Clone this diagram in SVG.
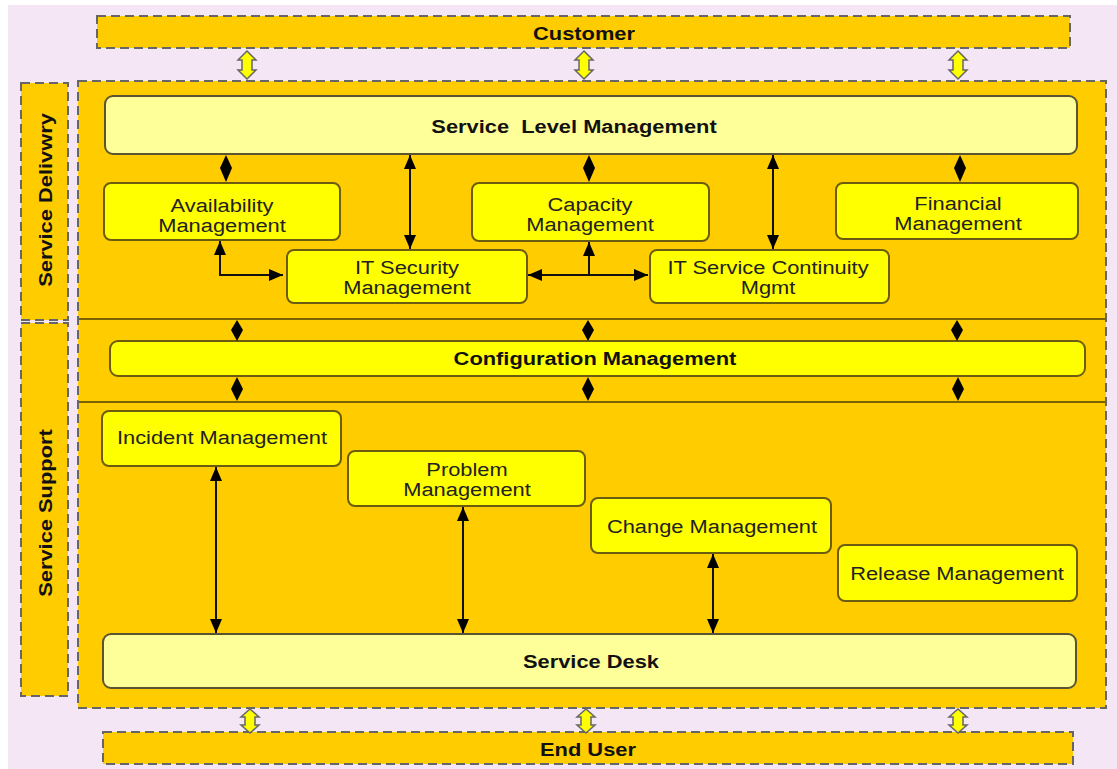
<svg xmlns="http://www.w3.org/2000/svg" width="1117" height="769" viewBox="0 0 1117 769">
<style>
.bg{fill:#f5e6f5}
.dash{fill:#ffcc00;stroke:#666;stroke-width:2;stroke-dasharray:9 5}
.box{fill:#ffff00;stroke:#6b5c10;stroke-width:2}
.lbox{fill:#ffff99;stroke:#5a5530;stroke-width:2}
.sep{stroke:#7a6200;stroke-width:2}
.t{font-family:"Liberation Sans",Arial,sans-serif;font-size:19px;fill:#222;text-anchor:middle}
.b{font-weight:bold;fill:#111}
.ln{fill:none;stroke:#111;stroke-width:2}
.dia{fill:#000}
.ha{fill:#ffff00;stroke:#666;stroke-width:1.5}
</style>
<defs>
<marker id="ah" viewBox="0 0 14 12" markerWidth="14" markerHeight="12" refX="14" refY="6" orient="auto-start-reverse" markerUnits="userSpaceOnUse">
<path d="M0,0 L14,6 L0,12 z" fill="#000"/>
</marker>
</defs>
<rect x="0" y="0" width="1117" height="769" fill="#ffffff"/>
<rect class="bg" x="8" y="5" width="1109" height="764"/>

<g id="customer">
<rect class="dash" x="97" y="16" width="973" height="32"/>
<text class="t b" transform="translate(584,40) scale(1.15,1)">Customer</text>
</g>
<g id="main">
<rect class="dash" x="78" y="81" width="1028" height="627"/>
<line class="sep" x1="79" y1="319" x2="1105" y2="319"/>
<line class="sep" x1="79" y1="402" x2="1105" y2="402"/>
</g>
<g id="service-delivery">
<rect class="dash" x="21" y="83" width="47" height="237"/>
<text class="t b" transform="translate(52,200) rotate(-90) scale(1.15,1)">Service Delivwry</text>
</g>
<g id="service-support">
<rect class="dash" x="21" y="323" width="47" height="373"/>
<text class="t b" transform="translate(52,513) rotate(-90) scale(1.15,1)">Service Support</text>
</g>
<g id="end-user">
<rect class="dash" x="103" y="732" width="970" height="32"/>
<text class="t b" transform="translate(588,756) scale(1.15,1)">End User</text>
</g>

<g id="slm">
<rect class="lbox" x="105" y="96" width="972" height="58" rx="8"/>
<text class="t b" transform="translate(574,133) scale(1.15,1)" xml:space="preserve">Service  Level Management</text>
</g>
<g id="availability">
<rect class="box" x="104" y="183" width="236" height="57" rx="7"/>
<text class="t" transform="translate(222,212) scale(1.15,1)">Availability</text>
<text class="t" transform="translate(222,232) scale(1.15,1)">Management</text>
</g>
<g id="capacity">
<rect class="box" x="472" y="183" width="237" height="58" rx="7"/>
<text class="t" transform="translate(590,211) scale(1.15,1)">Capacity</text>
<text class="t" transform="translate(590,231) scale(1.15,1)">Management</text>
</g>
<g id="financial">
<rect class="box" x="836" y="183" width="242" height="56" rx="7"/>
<text class="t" transform="translate(958,210) scale(1.15,1)">Financial</text>
<text class="t" transform="translate(958,230) scale(1.15,1)">Management</text>
</g>
<g id="it-security">
<rect class="box" x="287" y="250" width="240" height="53" rx="7"/>
<text class="t" transform="translate(407,274) scale(1.15,1)">IT Security</text>
<text class="t" transform="translate(407,294) scale(1.15,1)">Management</text>
</g>
<g id="it-continuity">
<rect class="box" x="650" y="250" width="239" height="53" rx="7"/>
<text class="t" transform="translate(768,274) scale(1.15,1)">IT Service Continuity</text>
<text class="t" transform="translate(768,294) scale(1.15,1)">Mgmt</text>
</g>
<g id="configuration">
<rect class="box" x="110" y="341" width="975" height="35" rx="8"/>
<text class="t b" transform="translate(595,365) scale(1.15,1)">Configuration Management</text>
</g>
<g id="incident">
<rect class="box" x="102" y="411" width="239" height="55" rx="7"/>
<text class="t" transform="translate(222,444) scale(1.15,1)">Incident Management</text>
</g>
<g id="problem">
<rect class="box" x="348" y="451" width="237" height="55" rx="7"/>
<text class="t" transform="translate(467,476) scale(1.15,1)">Problem</text>
<text class="t" transform="translate(467,496) scale(1.15,1)">Management</text>
</g>
<g id="change">
<rect class="box" x="591" y="498" width="240" height="55" rx="7"/>
<text class="t" transform="translate(712,533) scale(1.15,1)">Change Management</text>
</g>
<g id="release">
<rect class="box" x="838" y="545" width="239" height="56" rx="7"/>
<text class="t" transform="translate(957,580) scale(1.15,1)">Release Management</text>
</g>
<g id="service-desk">
<rect class="lbox" x="103" y="634" width="973" height="54" rx="8"/>
<text class="t b" transform="translate(591,668) scale(1.15,1)">Service Desk</text>
</g>

<g id="connectors">
<path class="ha" d="M247,51 L256,60 L252,60 L252,70 L256,70 L247,79 L238,70 L242,70 L242,60 L238,60 Z"/>
<path class="ha" d="M584,51 L593,60 L589,60 L589,70 L593,70 L584,79 L575,70 L579,70 L579,60 L575,60 Z"/>
<path class="ha" d="M958,51 L967,60 L963,60 L963,70 L967,70 L958,79 L949,70 L953,70 L953,60 L949,60 Z"/>
<path class="ha" d="M250,709 L259,717 L255,717 L255,725 L259,725 L250,733 L241,725 L245,725 L245,717 L241,717 Z"/>
<path class="ha" d="M586,709 L595,717 L591,717 L591,725 L595,725 L586,733 L577,725 L581,725 L581,717 L577,717 Z"/>
<path class="ha" d="M958,709 L967,717 L963,717 L963,725 L967,725 L958,733 L949,725 L953,725 L953,717 L949,717 Z"/>

<path class="dia" d="M226,155 L232,168 L226,182 L220,168 Z"/>
<path class="dia" d="M589,155 L595,168 L589,182 L583,168 Z"/>
<path class="dia" d="M960,155 L966,168 L960,182 L954,168 Z"/>
<path class="dia" d="M237,320 L243,330 L237,341 L231,330 Z"/>
<path class="dia" d="M588,320 L594,330 L588,341 L582,330 Z"/>
<path class="dia" d="M957,320 L963,330 L957,341 L951,330 Z"/>
<path class="dia" d="M237,377 L243,389 L237,401 L231,389 Z"/>
<path class="dia" d="M588,377 L594,389 L588,401 L582,389 Z"/>
<path class="dia" d="M958,377 L964,389 L958,401 L952,389 Z"/>

<line class="ln" x1="410" y1="155" x2="410" y2="249" marker-start="url(#ah)" marker-end="url(#ah)"/>
<line class="ln" x1="773" y1="155" x2="773" y2="249" marker-start="url(#ah)" marker-end="url(#ah)"/>
<path class="ln" d="M220,241 L220,275 L283,275" marker-start="url(#ah)" marker-end="url(#ah)"/>
<line class="ln" x1="528" y1="275" x2="648" y2="275" marker-start="url(#ah)" marker-end="url(#ah)"/>
<line class="ln" x1="589" y1="275" x2="589" y2="242" marker-end="url(#ah)"/>
<line class="ln" x1="216" y1="467" x2="216" y2="633" marker-start="url(#ah)" marker-end="url(#ah)"/>
<line class="ln" x1="463" y1="507" x2="463" y2="633" marker-start="url(#ah)" marker-end="url(#ah)"/>
<line class="ln" x1="713" y1="554" x2="713" y2="633" marker-start="url(#ah)" marker-end="url(#ah)"/>
</g>
</svg>
